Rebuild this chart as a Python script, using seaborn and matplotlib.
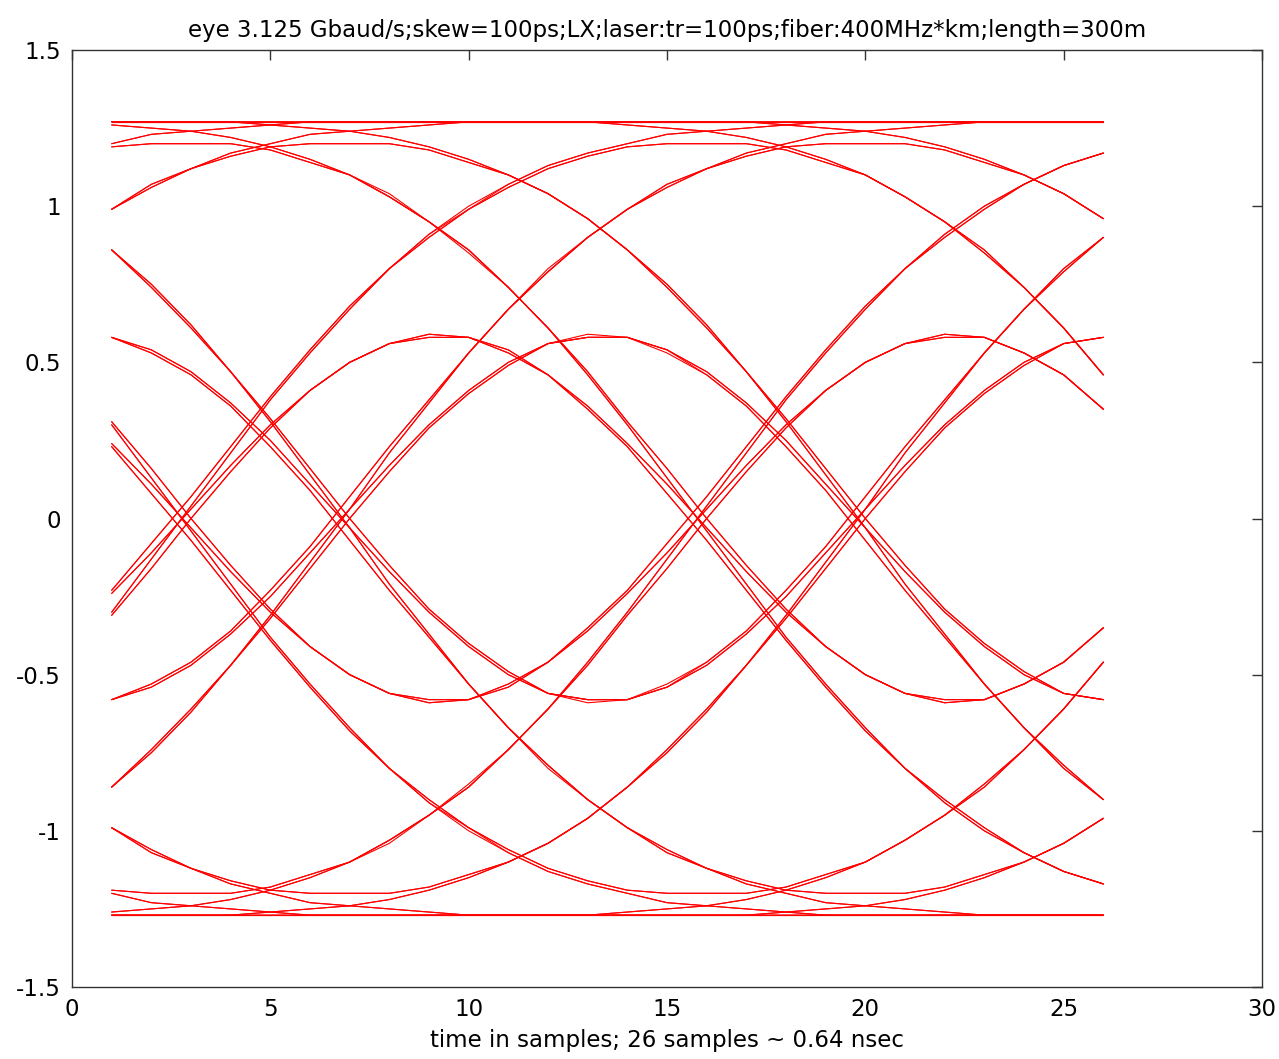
import matplotlib
matplotlib.use('Agg')
import matplotlib.pyplot as plt
import seaborn as sns
import pandas as pd

# sample positions (x axis)
t = [1, 2, 3, 4, 5, 6, 7, 8, 9, 10, 11, 12, 13, 14, 15, 16, 17, 18, 19, 20, 21, 22, 23, 24, 25, 26]

# ---- lane A traces (crossings near 2.8 and 15.8) ----
a11111 = [1.27, 1.27, 1.27, 1.27, 1.27, 1.27, 1.27, 1.27, 1.27, 1.27, 1.27, 1.27, 1.27, 1.27, 1.27, 1.27, 1.27, 1.27, 1.27, 1.27, 1.27, 1.27, 1.27, 1.27, 1.27, 1.27]
a11110 = [1.27, 1.27, 1.27, 1.27, 1.27, 1.27, 1.27, 1.27, 1.27, 1.27, 1.27, 1.27, 1.27, 1.26, 1.25, 1.24, 1.22, 1.19, 1.15, 1.10, 1.03, 0.95, 0.86, 0.74, 0.61, 0.46]
a11101 = [1.26, 1.25, 1.24, 1.22, 1.19, 1.15, 1.10, 1.04, 0.95, 0.86, 0.74, 0.61, 0.47, 0.31, 0.16, 0.00, -0.15, -0.29, -0.41, -0.50, -0.56, -0.58, -0.58, -0.53, -0.46, -0.35]
a11100 = [1.26, 1.25, 1.24, 1.22, 1.19, 1.15, 1.10, 1.03, 0.95, 0.86, 0.74, 0.61, 0.46, 0.30, 0.13, -0.04, -0.21, -0.38, -0.53, -0.67, -0.80, -0.90, -0.99, -1.07, -1.13, -1.17]
a10111 = [-0.23, -0.08, 0.07, 0.23, 0.39, 0.54, 0.68, 0.80, 0.91, 1.00, 1.07, 1.13, 1.17, 1.20, 1.23, 1.24, 1.25, 1.26, 1.27, 1.27, 1.27, 1.27, 1.27, 1.27, 1.27, 1.27]
a10110 = [-0.23, -0.08, 0.07, 0.23, 0.39, 0.54, 0.68, 0.80, 0.91, 0.99, 1.06, 1.12, 1.16, 1.19, 1.20, 1.20, 1.20, 1.18, 1.14, 1.10, 1.03, 0.95, 0.85, 0.74, 0.61, 0.46]
a10101 = [-0.24, -0.11, 0.03, 0.17, 0.30, 0.41, 0.50, 0.56, 0.59, 0.58, 0.54, 0.46, 0.36, 0.24, 0.11, -0.03, -0.17, -0.30, -0.41, -0.50, -0.56, -0.59, -0.58, -0.53, -0.46, -0.35]
a10100 = [-0.24, -0.11, 0.03, 0.17, 0.30, 0.41, 0.50, 0.56, 0.59, 0.58, 0.53, 0.46, 0.35, 0.23, 0.08, -0.07, -0.23, -0.39, -0.54, -0.68, -0.80, -0.91, -1.00, -1.07, -1.13, -1.17]
a01111 = [1.20, 1.23, 1.24, 1.25, 1.26, 1.27, 1.27, 1.27, 1.27, 1.27, 1.27, 1.27, 1.27, 1.27, 1.27, 1.27, 1.27, 1.27, 1.27, 1.27, 1.27, 1.27, 1.27, 1.27, 1.27, 1.27]
a01110 = [1.20, 1.23, 1.24, 1.25, 1.26, 1.27, 1.27, 1.27, 1.27, 1.27, 1.27, 1.27, 1.27, 1.26, 1.25, 1.24, 1.22, 1.19, 1.15, 1.10, 1.03, 0.95, 0.86, 0.74, 0.61, 0.46]
a01101 = [1.19, 1.20, 1.20, 1.20, 1.18, 1.14, 1.10, 1.03, 0.95, 0.86, 0.74, 0.61, 0.47, 0.31, 0.16, 0.00, -0.15, -0.29, -0.41, -0.50, -0.56, -0.58, -0.58, -0.53, -0.46, -0.35]
a01100 = [1.19, 1.20, 1.20, 1.20, 1.18, 1.14, 1.10, 1.03, 0.95, 0.85, 0.74, 0.61, 0.46, 0.30, 0.13, -0.04, -0.21, -0.38, -0.53, -0.67, -0.80, -0.90, -0.99, -1.07, -1.13, -1.17]
a00111 = [-0.30, -0.13, 0.04, 0.21, 0.38, 0.53, 0.67, 0.80, 0.90, 0.99, 1.07, 1.13, 1.17, 1.20, 1.23, 1.24, 1.25, 1.26, 1.27, 1.27, 1.27, 1.27, 1.27, 1.27, 1.27, 1.27]
a00110 = [-0.30, -0.13, 0.04, 0.21, 0.38, 0.53, 0.67, 0.80, 0.90, 0.99, 1.06, 1.12, 1.16, 1.19, 1.20, 1.20, 1.20, 1.18, 1.14, 1.10, 1.03, 0.95, 0.85, 0.74, 0.61, 0.46]
a00101 = [-0.31, -0.16, 0.00, 0.15, 0.29, 0.41, 0.50, 0.56, 0.58, 0.58, 0.54, 0.46, 0.36, 0.24, 0.11, -0.03, -0.17, -0.30, -0.41, -0.50, -0.56, -0.59, -0.58, -0.53, -0.46, -0.35]
a00100 = [-0.31, -0.16, 0.00, 0.15, 0.29, 0.41, 0.50, 0.56, 0.58, 0.58, 0.53, 0.46, 0.35, 0.23, 0.08, -0.07, -0.23, -0.39, -0.54, -0.68, -0.80, -0.91, -1.00, -1.07, -1.13, -1.17]
a00000 = [-1.27, -1.27, -1.27, -1.27, -1.27, -1.27, -1.27, -1.27, -1.27, -1.27, -1.27, -1.27, -1.27, -1.27, -1.27, -1.27, -1.27, -1.27, -1.27, -1.27, -1.27, -1.27, -1.27, -1.27, -1.27, -1.27]
a00001 = [-1.27, -1.27, -1.27, -1.27, -1.27, -1.27, -1.27, -1.27, -1.27, -1.27, -1.27, -1.27, -1.27, -1.26, -1.25, -1.24, -1.22, -1.19, -1.15, -1.10, -1.03, -0.95, -0.86, -0.74, -0.61, -0.46]
a00010 = [-1.26, -1.25, -1.24, -1.22, -1.19, -1.15, -1.10, -1.04, -0.95, -0.86, -0.74, -0.61, -0.47, -0.31, -0.16, 0.00, 0.15, 0.29, 0.41, 0.50, 0.56, 0.58, 0.58, 0.53, 0.46, 0.35]
a00011 = [-1.26, -1.25, -1.24, -1.22, -1.19, -1.15, -1.10, -1.03, -0.95, -0.86, -0.74, -0.61, -0.46, -0.30, -0.13, 0.04, 0.21, 0.38, 0.53, 0.67, 0.80, 0.90, 0.99, 1.07, 1.13, 1.17]
a01000 = [0.23, 0.08, -0.07, -0.23, -0.39, -0.54, -0.68, -0.80, -0.91, -1.00, -1.07, -1.13, -1.17, -1.20, -1.23, -1.24, -1.25, -1.26, -1.27, -1.27, -1.27, -1.27, -1.27, -1.27, -1.27, -1.27]
a01001 = [0.23, 0.08, -0.07, -0.23, -0.39, -0.54, -0.68, -0.80, -0.91, -0.99, -1.06, -1.12, -1.16, -1.19, -1.20, -1.20, -1.20, -1.18, -1.14, -1.10, -1.03, -0.95, -0.85, -0.74, -0.61, -0.46]
a01010 = [0.24, 0.11, -0.03, -0.17, -0.30, -0.41, -0.50, -0.56, -0.59, -0.58, -0.54, -0.46, -0.36, -0.24, -0.11, 0.03, 0.17, 0.30, 0.41, 0.50, 0.56, 0.59, 0.58, 0.53, 0.46, 0.35]
a01011 = [0.24, 0.11, -0.03, -0.17, -0.30, -0.41, -0.50, -0.56, -0.59, -0.58, -0.53, -0.46, -0.35, -0.23, -0.08, 0.07, 0.23, 0.39, 0.54, 0.68, 0.80, 0.91, 1.00, 1.07, 1.13, 1.17]
a10000 = [-1.20, -1.23, -1.24, -1.25, -1.26, -1.27, -1.27, -1.27, -1.27, -1.27, -1.27, -1.27, -1.27, -1.27, -1.27, -1.27, -1.27, -1.27, -1.27, -1.27, -1.27, -1.27, -1.27, -1.27, -1.27, -1.27]
a10001 = [-1.20, -1.23, -1.24, -1.25, -1.26, -1.27, -1.27, -1.27, -1.27, -1.27, -1.27, -1.27, -1.27, -1.26, -1.25, -1.24, -1.22, -1.19, -1.15, -1.10, -1.03, -0.95, -0.86, -0.74, -0.61, -0.46]
a10010 = [-1.19, -1.20, -1.20, -1.20, -1.18, -1.14, -1.10, -1.03, -0.95, -0.86, -0.74, -0.61, -0.47, -0.31, -0.16, 0.00, 0.15, 0.29, 0.41, 0.50, 0.56, 0.58, 0.58, 0.53, 0.46, 0.35]
a10011 = [-1.19, -1.20, -1.20, -1.20, -1.18, -1.14, -1.10, -1.03, -0.95, -0.85, -0.74, -0.61, -0.46, -0.30, -0.13, 0.04, 0.21, 0.38, 0.53, 0.67, 0.80, 0.90, 0.99, 1.07, 1.13, 1.17]
a11000 = [0.30, 0.13, -0.04, -0.21, -0.38, -0.53, -0.67, -0.80, -0.90, -0.99, -1.07, -1.13, -1.17, -1.20, -1.23, -1.24, -1.25, -1.26, -1.27, -1.27, -1.27, -1.27, -1.27, -1.27, -1.27, -1.27]
a11001 = [0.30, 0.13, -0.04, -0.21, -0.38, -0.53, -0.67, -0.80, -0.90, -0.99, -1.06, -1.12, -1.16, -1.19, -1.20, -1.20, -1.20, -1.18, -1.14, -1.10, -1.03, -0.95, -0.85, -0.74, -0.61, -0.46]
a11010 = [0.31, 0.16, 0.00, -0.15, -0.29, -0.41, -0.50, -0.56, -0.58, -0.58, -0.54, -0.46, -0.36, -0.24, -0.11, 0.03, 0.17, 0.30, 0.41, 0.50, 0.56, 0.59, 0.58, 0.53, 0.46, 0.35]
a11011 = [0.31, 0.16, 0.00, -0.15, -0.29, -0.41, -0.50, -0.56, -0.58, -0.58, -0.53, -0.46, -0.35, -0.23, -0.08, 0.07, 0.23, 0.39, 0.54, 0.68, 0.80, 0.91, 1.00, 1.07, 1.13, 1.17]

# ---- lane B traces (skewed by ~100 ps: crossings near 6.8 and 19.8) ----
b11111 = [1.27, 1.27, 1.27, 1.27, 1.27, 1.27, 1.27, 1.27, 1.27, 1.27, 1.27, 1.27, 1.27, 1.27, 1.27, 1.27, 1.27, 1.27, 1.27, 1.27, 1.27, 1.27, 1.27, 1.27, 1.27, 1.27]
b11110 = [1.27, 1.27, 1.27, 1.27, 1.27, 1.27, 1.27, 1.27, 1.27, 1.27, 1.27, 1.27, 1.27, 1.27, 1.27, 1.27, 1.27, 1.26, 1.25, 1.24, 1.22, 1.19, 1.15, 1.10, 1.04, 0.96]
b11101 = [1.27, 1.27, 1.27, 1.27, 1.26, 1.25, 1.24, 1.22, 1.19, 1.15, 1.10, 1.04, 0.96, 0.86, 0.75, 0.62, 0.47, 0.32, 0.16, 0.00, -0.15, -0.29, -0.40, -0.49, -0.56, -0.58]
b11100 = [1.27, 1.27, 1.27, 1.27, 1.26, 1.25, 1.24, 1.22, 1.19, 1.15, 1.10, 1.04, 0.96, 0.86, 0.74, 0.61, 0.47, 0.31, 0.14, -0.03, -0.21, -0.37, -0.53, -0.67, -0.79, -0.90]
b10111 = [-0.58, -0.53, -0.46, -0.36, -0.23, -0.09, 0.07, 0.23, 0.38, 0.53, 0.67, 0.80, 0.90, 0.99, 1.07, 1.12, 1.17, 1.20, 1.23, 1.24, 1.25, 1.26, 1.27, 1.27, 1.27, 1.27]
b10110 = [-0.58, -0.53, -0.46, -0.36, -0.23, -0.09, 0.07, 0.23, 0.38, 0.53, 0.67, 0.79, 0.90, 0.99, 1.06, 1.12, 1.16, 1.19, 1.20, 1.20, 1.20, 1.18, 1.14, 1.10, 1.04, 0.96]
b10101 = [-0.58, -0.54, -0.47, -0.37, -0.25, -0.11, 0.03, 0.17, 0.30, 0.41, 0.50, 0.56, 0.59, 0.58, 0.54, 0.47, 0.37, 0.25, 0.11, -0.03, -0.17, -0.30, -0.41, -0.50, -0.56, -0.58]
b10100 = [-0.58, -0.54, -0.47, -0.37, -0.25, -0.11, 0.03, 0.17, 0.30, 0.41, 0.50, 0.56, 0.58, 0.58, 0.54, 0.46, 0.36, 0.23, 0.09, -0.07, -0.23, -0.38, -0.53, -0.67, -0.80, -0.90]
b01111 = [0.99, 1.07, 1.12, 1.17, 1.20, 1.23, 1.24, 1.25, 1.26, 1.27, 1.27, 1.27, 1.27, 1.27, 1.27, 1.27, 1.27, 1.27, 1.27, 1.27, 1.27, 1.27, 1.27, 1.27, 1.27, 1.27]
b01110 = [0.99, 1.07, 1.12, 1.17, 1.20, 1.23, 1.24, 1.25, 1.26, 1.27, 1.27, 1.27, 1.27, 1.27, 1.27, 1.27, 1.27, 1.26, 1.25, 1.24, 1.22, 1.19, 1.15, 1.10, 1.04, 0.96]
b01101 = [0.99, 1.06, 1.12, 1.16, 1.19, 1.20, 1.20, 1.20, 1.18, 1.14, 1.10, 1.04, 0.96, 0.86, 0.75, 0.62, 0.47, 0.32, 0.16, 0.00, -0.15, -0.29, -0.40, -0.49, -0.56, -0.58]
b01100 = [0.99, 1.06, 1.12, 1.16, 1.19, 1.20, 1.20, 1.20, 1.18, 1.14, 1.10, 1.04, 0.96, 0.86, 0.74, 0.61, 0.47, 0.31, 0.14, -0.03, -0.21, -0.37, -0.53, -0.67, -0.79, -0.90]
b00111 = [-0.86, -0.74, -0.61, -0.47, -0.31, -0.14, 0.03, 0.21, 0.37, 0.53, 0.67, 0.79, 0.90, 0.99, 1.07, 1.12, 1.17, 1.20, 1.23, 1.24, 1.25, 1.26, 1.27, 1.27, 1.27, 1.27]
b00110 = [-0.86, -0.74, -0.61, -0.47, -0.31, -0.14, 0.03, 0.21, 0.37, 0.53, 0.67, 0.79, 0.90, 0.99, 1.06, 1.12, 1.16, 1.19, 1.20, 1.20, 1.20, 1.18, 1.14, 1.10, 1.04, 0.96]
b00101 = [-0.86, -0.75, -0.62, -0.47, -0.32, -0.16, 0.00, 0.15, 0.29, 0.40, 0.49, 0.56, 0.58, 0.58, 0.54, 0.47, 0.37, 0.25, 0.11, -0.03, -0.17, -0.30, -0.41, -0.50, -0.56, -0.58]
b00100 = [-0.86, -0.75, -0.62, -0.47, -0.32, -0.16, 0.00, 0.15, 0.29, 0.40, 0.49, 0.56, 0.58, 0.58, 0.53, 0.46, 0.36, 0.23, 0.09, -0.07, -0.23, -0.38, -0.53, -0.67, -0.80, -0.90]
b00000 = [-1.27, -1.27, -1.27, -1.27, -1.27, -1.27, -1.27, -1.27, -1.27, -1.27, -1.27, -1.27, -1.27, -1.27, -1.27, -1.27, -1.27, -1.27, -1.27, -1.27, -1.27, -1.27, -1.27, -1.27, -1.27, -1.27]
b00001 = [-1.27, -1.27, -1.27, -1.27, -1.27, -1.27, -1.27, -1.27, -1.27, -1.27, -1.27, -1.27, -1.27, -1.27, -1.27, -1.27, -1.27, -1.26, -1.25, -1.24, -1.22, -1.19, -1.15, -1.10, -1.04, -0.96]
b00010 = [-1.27, -1.27, -1.27, -1.27, -1.26, -1.25, -1.24, -1.22, -1.19, -1.15, -1.10, -1.04, -0.96, -0.86, -0.75, -0.62, -0.47, -0.32, -0.16, 0.00, 0.15, 0.29, 0.40, 0.49, 0.56, 0.58]
b00011 = [-1.27, -1.27, -1.27, -1.27, -1.26, -1.25, -1.24, -1.22, -1.19, -1.15, -1.10, -1.04, -0.96, -0.86, -0.74, -0.61, -0.47, -0.31, -0.14, 0.03, 0.21, 0.37, 0.53, 0.67, 0.79, 0.90]
b01000 = [0.58, 0.53, 0.46, 0.36, 0.23, 0.09, -0.07, -0.23, -0.38, -0.53, -0.67, -0.80, -0.90, -0.99, -1.07, -1.12, -1.17, -1.20, -1.23, -1.24, -1.25, -1.26, -1.27, -1.27, -1.27, -1.27]
b01001 = [0.58, 0.53, 0.46, 0.36, 0.23, 0.09, -0.07, -0.23, -0.38, -0.53, -0.67, -0.79, -0.90, -0.99, -1.06, -1.12, -1.16, -1.19, -1.20, -1.20, -1.20, -1.18, -1.14, -1.10, -1.04, -0.96]
b01010 = [0.58, 0.54, 0.47, 0.37, 0.25, 0.11, -0.03, -0.17, -0.30, -0.41, -0.50, -0.56, -0.59, -0.58, -0.54, -0.47, -0.37, -0.25, -0.11, 0.03, 0.17, 0.30, 0.41, 0.50, 0.56, 0.58]
b01011 = [0.58, 0.54, 0.47, 0.37, 0.25, 0.11, -0.03, -0.17, -0.30, -0.41, -0.50, -0.56, -0.58, -0.58, -0.54, -0.46, -0.36, -0.23, -0.09, 0.07, 0.23, 0.38, 0.53, 0.67, 0.80, 0.90]
b10000 = [-0.99, -1.07, -1.12, -1.17, -1.20, -1.23, -1.24, -1.25, -1.26, -1.27, -1.27, -1.27, -1.27, -1.27, -1.27, -1.27, -1.27, -1.27, -1.27, -1.27, -1.27, -1.27, -1.27, -1.27, -1.27, -1.27]
b10001 = [-0.99, -1.07, -1.12, -1.17, -1.20, -1.23, -1.24, -1.25, -1.26, -1.27, -1.27, -1.27, -1.27, -1.27, -1.27, -1.27, -1.27, -1.26, -1.25, -1.24, -1.22, -1.19, -1.15, -1.10, -1.04, -0.96]
b10010 = [-0.99, -1.06, -1.12, -1.16, -1.19, -1.20, -1.20, -1.20, -1.18, -1.14, -1.10, -1.04, -0.96, -0.86, -0.75, -0.62, -0.47, -0.32, -0.16, 0.00, 0.15, 0.29, 0.40, 0.49, 0.56, 0.58]
b10011 = [-0.99, -1.06, -1.12, -1.16, -1.19, -1.20, -1.20, -1.20, -1.18, -1.14, -1.10, -1.04, -0.96, -0.86, -0.74, -0.61, -0.47, -0.31, -0.14, 0.03, 0.21, 0.37, 0.53, 0.67, 0.79, 0.90]
b11000 = [0.86, 0.74, 0.61, 0.47, 0.31, 0.14, -0.03, -0.21, -0.37, -0.53, -0.67, -0.79, -0.90, -0.99, -1.07, -1.12, -1.17, -1.20, -1.23, -1.24, -1.25, -1.26, -1.27, -1.27, -1.27, -1.27]
b11001 = [0.86, 0.74, 0.61, 0.47, 0.31, 0.14, -0.03, -0.21, -0.37, -0.53, -0.67, -0.79, -0.90, -0.99, -1.06, -1.12, -1.16, -1.19, -1.20, -1.20, -1.20, -1.18, -1.14, -1.10, -1.04, -0.96]
b11010 = [0.86, 0.75, 0.62, 0.47, 0.32, 0.16, 0.00, -0.15, -0.29, -0.40, -0.49, -0.56, -0.58, -0.58, -0.54, -0.47, -0.37, -0.25, -0.11, 0.03, 0.17, 0.30, 0.41, 0.50, 0.56, 0.58]
b11011 = [0.86, 0.75, 0.62, 0.47, 0.32, 0.16, 0.00, -0.15, -0.29, -0.40, -0.49, -0.56, -0.58, -0.58, -0.53, -0.46, -0.36, -0.23, -0.09, 0.07, 0.23, 0.38, 0.53, 0.67, 0.80, 0.90]

traces = {
    'a11111': a11111, 'a11110': a11110, 'a11101': a11101, 'a11100': a11100,
    'a10111': a10111, 'a10110': a10110, 'a10101': a10101, 'a10100': a10100,
    'a01111': a01111, 'a01110': a01110, 'a01101': a01101, 'a01100': a01100,
    'a00111': a00111, 'a00110': a00110, 'a00101': a00101, 'a00100': a00100,
    'a00000': a00000, 'a00001': a00001, 'a00010': a00010, 'a00011': a00011,
    'a01000': a01000, 'a01001': a01001, 'a01010': a01010, 'a01011': a01011,
    'a10000': a10000, 'a10001': a10001, 'a10010': a10010, 'a10011': a10011,
    'a11000': a11000, 'a11001': a11001, 'a11010': a11010, 'a11011': a11011,
    'b11111': b11111, 'b11110': b11110, 'b11101': b11101, 'b11100': b11100,
    'b10111': b10111, 'b10110': b10110, 'b10101': b10101, 'b10100': b10100,
    'b01111': b01111, 'b01110': b01110, 'b01101': b01101, 'b01100': b01100,
    'b00111': b00111, 'b00110': b00110, 'b00101': b00101, 'b00100': b00100,
    'b00000': b00000, 'b00001': b00001, 'b00010': b00010, 'b00011': b00011,
    'b01000': b01000, 'b01001': b01001, 'b01010': b01010, 'b01011': b01011,
    'b10000': b10000, 'b10001': b10001, 'b10010': b10010, 'b10011': b10011,
    'b11000': b11000, 'b11001': b11001, 'b11010': b11010, 'b11011': b11011,
}

rows = []
for name, vals in traces.items():
    for ti, vi in zip(t, vals):
        rows.append((name, ti, vi))
df = pd.DataFrame(rows, columns=['trace', 'sample', 'value'])

sns.set_style('white')
plt.rcParams['font.family'] = ['DejaVu Sans']
plt.rcParams['axes.unicode_minus'] = False
plt.rcParams['text.color'] = 'black'
plt.rcParams['axes.labelcolor'] = 'black'

fig = plt.figure(figsize=(12.79, 10.59), dpi=100)
ax = fig.add_axes([72 / 1279, 72 / 1059, 1190 / 1279, 937 / 1059])
sns.lineplot(data=df, x='sample', y='value', units='trace', estimator=None,
             color='#ff0000', lw=0.8, ax=ax, legend=False)

ax.set_xlim(0, 30)
ax.set_ylim(-1.5, 1.5)
ax.set_xticks([0, 5, 10, 15, 20, 25, 30])
ax.set_xticklabels(['0', '5', '10', '15', '20', '25', '30'])
ax.set_yticks([-1.5, -1, -0.5, 0, 0.5, 1, 1.5])
ax.set_yticklabels(['-1.5', '-1', '-0.5', '0', '0.5', '1', '1.5'])
for s in ax.spines.values():
    s.set_color('#333333')
    s.set_linewidth(1.0)
ax.tick_params(direction='in', top=True, right=True, length=7, width=1,
               color='#333333', labelsize=16.5, pad=8, labelcolor='black')
ax.set_title('eye 3.125 Gbaud/s;skew=100ps;LX;laser:tr=100ps;fiber:400MHz*km;length=300m',
             fontsize=16.5, pad=9, color='black')
ax.set_xlabel('time in samples; 26 samples ~ 0.64 nsec', fontsize=16.5, labelpad=6, color='black')
ax.set_ylabel('')
fig.savefig('out.png', dpi=100)
